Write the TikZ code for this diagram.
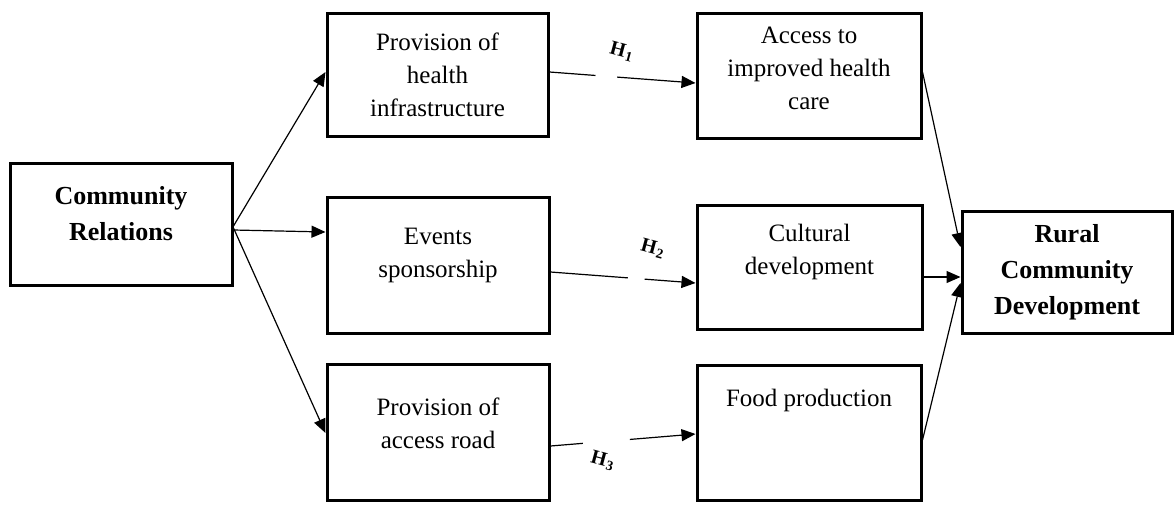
\documentclass[tikz,border=0pt]{standalone}
\usepackage{fontspec}
\setmainfont{Liberation Serif}
\usetikzlibrary{arrows.meta,calc}

\begin{document}
\begin{tikzpicture}[x=0.5pt,y=-0.5pt,
    box/.style={draw, line width=1.5pt, inner sep=0pt, align=center,
      font=\fontsize{12.5}{16.5}\selectfont},
    bbox/.style={box, font=\fontsize{13}{18}\selectfont\bfseries},
    lift/.style={text depth=#1},
    arr/.style={line width=0.6pt, -{Triangle[length=7pt,width=6pt]}},
    hyp/.style={font=\fontsize{10}{10}\selectfont\bfseries, rotate=-15, inner sep=1pt}]
  \useasboundingbox (0,0) rectangle (1176,504);
  % boxes
  \node[bbox, minimum width=111pt, minimum height=61pt, lift=11pt] (cr) at (121,224) {Community\\Relations};
  \node[box, minimum width=110.5pt, minimum height=61.5pt] (phi) at (437.5,74.5) {Provision of\\health\\infrastructure};
  \node[box, minimum width=111pt, minimum height=68pt, lift=12pt] (es) at (438,265) {Events\\sponsorship};
  \node[box, minimum width=111pt, minimum height=68pt, lift=9pt] (par) at (438,432) {Provision of\\access road};
  \node[box, minimum width=112pt, minimum height=62.5pt, lift=7pt] (aih) at (809,75.5) {Access to\\improved health\\care};
  \node[box, minimum width=112.5pt, minimum height=62pt, lift=18pt] (cd) at (809.5,267) {Cultural\\development};
  \node[box, minimum width=112pt, minimum height=67.5pt, lift=35pt] (fp) at (809,432.5) {Food production};
  \node[bbox, minimum width=105pt, minimum height=61pt] (rcd) at (1067,272) {Rural\\Community\\Development};
  % community relations to its three channels
  \draw[arr] ($(cr.east)+(0,2)$) -- ($(phi.west)+(0,-2.5)$);
  \draw[arr] ($(cr.east)+(0,6)$) -- ($(es.west)+(0,-33)$);
  \draw[arr] ($(cr.east)+(0,4)$) -- ($(par.west)+(0,1)$);
  % hypotheses
  \coordinate (h1a) at ($(phi.east)+(0,-2.5)$);
  \coordinate (h1b) at ($(aih.west)+(0,7.5)$);
  \draw[line width=0.6pt] (h1a) -- ($(h1a)!.315!(h1b)$);
  \draw[arr] ($(h1a)!.463!(h1b)$) -- (h1b);
  \node[hyp] (h1) at (622,52) {H\kern0.5pt\textsubscript{1}};
  \coordinate (h2a) at ($(es.east)+(0,7)$);
  \coordinate (h2b) at ($(cd.west)+(0,16)$);
  \draw[line width=0.6pt] (h2a) -- ($(h2a)!.534!(h2b)$);
  \draw[arr] ($(h2a)!.649!(h2b)$) -- (h2b);
  \node[hyp] (h2) at (653,249) {H\kern0.5pt\textsubscript{2}};
  \coordinate (h3a) at ($(par.east)+(0,14)$);
  \coordinate (h3b) at ($(fp.west)+(0,1.5)$);
  \draw[line width=0.6pt] (h3a) -- ($(h3a)!.223!(h3b)$);
  \draw[arr] ($(h3a)!.547!(h3b)$) -- (h3b);
  \node[hyp] (h3) at (603,461) {H\kern0.5pt\textsubscript{3}};
  % outcomes to rural community development
  \draw[arr] ($(aih.east)+(0,-3.5)$) -- ($(rcd.west)+(0,-25)$);
  \draw[arr] ($(cd.east)+(0,10)$) -- ($(rcd.west)+(0,5)$);
  \draw[arr] ($(fp.east)+(0,7.5)$) -- ($(rcd.west)+(0,11)$);
\end{tikzpicture}
\end{document}
